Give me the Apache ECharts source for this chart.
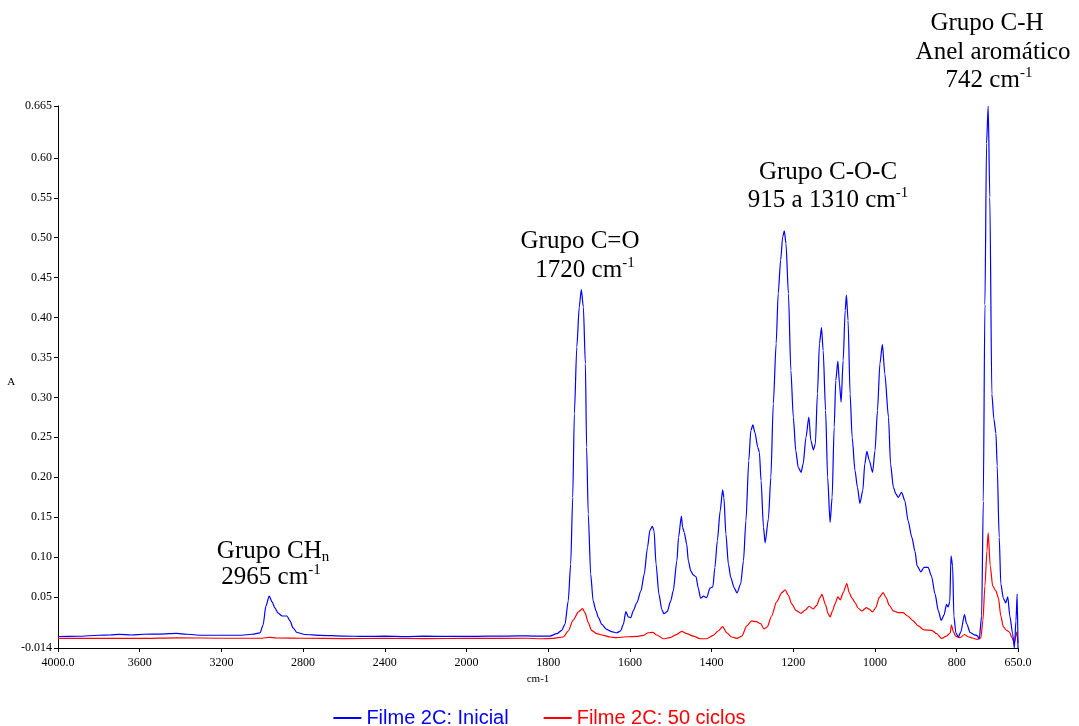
<!DOCTYPE html>
<html>
<head>
<meta charset="utf-8">
<script src="https://cdn.jsdelivr.net/npm/echarts@6/dist/echarts.min.js"></script>
<style>
  html, body { margin: 0; padding: 0; background: #ffffff; }
  #chart { width: 1079px; height: 726px; }
</style>
</head>
<body>
<div id="chart"></div>
<script>
// FTIR spectra (absorbance vs. wavenumber, cm-1)
const blueWavenumber = [4000, 3900, 3800, 3745, 3700, 3640, 3580, 3500, 3420, 3370, 3300, 3200, 3100, 3050, 3011, 2996, 2982, 2966, 2952, 2938, 2923, 2903, 2879, 2864, 2849, 2830, 2791, 2717, 2600, 2500, 2400, 2300, 2200, 2100, 2000, 1950, 1900, 1850, 1820, 1796, 1779, 1767, 1759, 1751, 1745, 1740, 1736, 1730, 1724, 1719, 1714, 1709, 1706, 1702, 1696, 1690, 1683, 1677, 1669, 1657, 1645, 1632, 1623, 1616, 1610, 1604, 1598, 1592, 1583, 1573, 1565, 1557, 1551, 1545, 1541, 1536, 1529, 1522, 1517, 1509, 1500, 1494, 1485, 1481, 1474, 1471, 1467, 1461, 1457, 1451, 1445, 1438, 1433, 1427, 1420, 1412, 1404, 1397, 1392, 1386, 1379, 1373, 1370, 1365, 1359, 1353, 1345, 1338, 1329, 1322, 1316, 1309, 1304, 1299, 1294, 1287, 1283, 1279, 1273, 1269, 1261, 1255, 1249, 1242, 1237, 1231, 1226, 1222, 1218, 1212, 1206, 1200, 1194, 1188, 1181, 1176, 1169, 1162, 1157, 1151, 1146, 1141, 1136, 1131, 1127, 1121, 1116, 1110, 1105, 1100, 1096, 1091, 1087, 1083, 1078, 1073, 1070, 1066, 1061, 1056, 1049, 1043, 1037, 1030, 1025, 1020, 1014, 1006, 1000, 994, 988, 982, 976, 967, 962, 955, 949, 943, 935, 927, 919, 910, 902, 897, 888, 880, 870, 862, 853, 845, 838, 831, 825, 821, 817, 814, 810, 807, 802, 796, 790, 781, 776, 767, 758, 750, 745, 739, 735, 731, 727, 723, 719, 714, 709, 704, 701, 696, 692, 686, 680, 675, 670, 663, 659, 655, 652, 650];
const blueAbsorbance = [0.0004, 0.0007, 0.0020, 0.0023, 0.0030, 0.0023, 0.0032, 0.0035, 0.0044, 0.0032, 0.0020, 0.0020, 0.0020, 0.0032, 0.0050, 0.0148, 0.0387, 0.0510, 0.0437, 0.0362, 0.0299, 0.0261, 0.0261, 0.0199, 0.0111, 0.0054, 0.0029, 0.0019, 0.0010, 0.0005, 0.0008, 0.0003, 0.0008, 0.0005, 0.0005, 0.0008, 0.0010, 0.0012, 0.0008, 0.0010, 0.0039, 0.0082, 0.0157, 0.0449, 0.0911, 0.1747, 0.2794, 0.3630, 0.4133, 0.4351, 0.4133, 0.3422, 0.2375, 0.1539, 0.0785, 0.0450, 0.0324, 0.0240, 0.0157, 0.0094, 0.0064, 0.0051, 0.0073, 0.0157, 0.0315, 0.0249, 0.0240, 0.0324, 0.0428, 0.0575, 0.0785, 0.1119, 0.1337, 0.1383, 0.1329, 0.0911, 0.0534, 0.0345, 0.0290, 0.0315, 0.0450, 0.0575, 0.0952, 0.1245, 0.1513, 0.1370, 0.1307, 0.1162, 0.0952, 0.0826, 0.0776, 0.0751, 0.0617, 0.0484, 0.0509, 0.0491, 0.0609, 0.0626, 0.0868, 0.1203, 0.1580, 0.1840, 0.1747, 0.1287, 0.0911, 0.0742, 0.0617, 0.0550, 0.0659, 0.0952, 0.1454, 0.2208, 0.2584, 0.2654, 0.2559, 0.2375, 0.2308, 0.1957, 0.1370, 0.1178, 0.1479, 0.1998, 0.2920, 0.3673, 0.4301, 0.4719, 0.5012, 0.5087, 0.4929, 0.4301, 0.3338, 0.2752, 0.2333, 0.2124, 0.2061, 0.2166, 0.2500, 0.2752, 0.2459, 0.2342, 0.2417, 0.3045, 0.3673, 0.3874, 0.3589, 0.2836, 0.1998, 0.1433, 0.1747, 0.2626, 0.3212, 0.3455, 0.3171, 0.2940, 0.3463, 0.4091, 0.4280, 0.3966, 0.3045, 0.2500, 0.2082, 0.1873, 0.1672, 0.1831, 0.2166, 0.2325, 0.2208, 0.2061, 0.2333, 0.2836, 0.3422, 0.3664, 0.3296, 0.2752, 0.2166, 0.1873, 0.1790, 0.1747, 0.1810, 0.1705, 0.1454, 0.1248, 0.1069, 0.0889, 0.0814, 0.0870, 0.0870, 0.0764, 0.0534, 0.0324, 0.0205, 0.0274, 0.0406, 0.0374, 0.0437, 0.1015, 0.0889, 0.0261, 0.0048, -0.0002, 0.0061, 0.0279, 0.0167, 0.0054, 0.0028, 0.0015, -0.0027, 0.0261, 0.1697, 0.4163, 0.6181, 0.6650, 0.5510, 0.3041, 0.2728, 0.2547, 0.2145, 0.1248, 0.0663, 0.0486, 0.0425, 0.0500, 0.0261, 0.0035, -0.0140, 0.0199, 0.0538, -0.0140];

const redWavenumber = [4000, 3800, 3600, 3420, 3200, 3000, 2966, 2930, 2800, 2600, 2400, 2200, 2000, 1850, 1820, 1788, 1763, 1751, 1739, 1726, 1716, 1710, 1702, 1694, 1681, 1665, 1649, 1632, 1608, 1583, 1567, 1555, 1544, 1534, 1518, 1502, 1485, 1473, 1461, 1445, 1428, 1412, 1396, 1384, 1373, 1363, 1351, 1338, 1326, 1314, 1302, 1290, 1280, 1272, 1264, 1253, 1241, 1228, 1220, 1212, 1204, 1193, 1181, 1171, 1161, 1151, 1143, 1135, 1130, 1121, 1115, 1110, 1104, 1098, 1091, 1085, 1078, 1069, 1063, 1056, 1049, 1041, 1032, 1021, 1014, 1006, 998, 990, 980, 973, 965, 955, 943, 931, 920, 908, 894, 880, 861, 849, 837, 825, 816, 813, 808, 803, 792, 781, 772, 761, 750, 741, 736, 731, 726, 723, 718, 712, 704, 698, 692, 686, 678, 671, 665, 659, 653, 650];
const redAbsorbance = [-0.0020, -0.0018, -0.0020, -0.0012, -0.0018, -0.0018, -0.0006, -0.0015, -0.0018, -0.0022, -0.0020, -0.0022, -0.0020, -0.0018, -0.0024, -0.0019, -0.0002, 0.0073, 0.0208, 0.0312, 0.0353, 0.0303, 0.0177, 0.0082, 0.0039, 0.0019, -0.0002, -0.0011, 0.0001, 0.0006, 0.0019, 0.0051, 0.0056, 0.0023, -0.0024, -0.0011, 0.0031, 0.0069, 0.0039, 0.0010, -0.0024, -0.0024, 0.0019, 0.0073, 0.0127, 0.0051, -0.0002, -0.0019, 0.0010, 0.0136, 0.0199, 0.0190, 0.0165, 0.0098, 0.0123, 0.0261, 0.0437, 0.0554, 0.0588, 0.0519, 0.0412, 0.0328, 0.0295, 0.0334, 0.0383, 0.0349, 0.0393, 0.0487, 0.0531, 0.0400, 0.0293, 0.0249, 0.0324, 0.0412, 0.0500, 0.0462, 0.0554, 0.0667, 0.0550, 0.0481, 0.0428, 0.0358, 0.0324, 0.0366, 0.0346, 0.0312, 0.0366, 0.0491, 0.0554, 0.0491, 0.0393, 0.0324, 0.0303, 0.0303, 0.0261, 0.0205, 0.0136, 0.0086, 0.0082, 0.0039, -0.0021, 0.0010, 0.0048, 0.0148, 0.0061, 0.0010, -0.0011, 0.0029, 0.0001, -0.0015, -0.0032, -0.0015, 0.0199, 0.0638, 0.1078, 0.1303, 0.0889, 0.0638, 0.0575, 0.0487, 0.0261, 0.0127, 0.0082, 0.0060, -0.0008, -0.0076, 0.0060, -0.0076];

const seriesNames = ['Filme 2C: Inicial', 'Filme 2C: 50 ciclos'];

const xTickWavenumbers = [4000, 3600, 3200, 2800, 2400, 2000, 1800, 1600, 1400, 1200, 1000, 800, 650];
const xTickLabels = ['4000.0', '3600', '3200', '2800', '2400', '2000', '1800', '1600', '1400', '1200', '1000', '800', '650.0'];
const yTickValues = [-0.014, 0.05, 0.10, 0.15, 0.20, 0.25, 0.30, 0.35, 0.40, 0.45, 0.50, 0.55, 0.60, 0.665];
const yTickLabels = ['-0.014', '0.05', '0.10', '0.15', '0.20', '0.25', '0.30', '0.35', '0.40', '0.45', '0.50', '0.55', '0.60', '0.665'];

// The wavenumber axis is drawn with a scale change at 2000 cm-1:
// 4000-2000 at half the scale of 2000-650.
function toAxis(w) {
  return w >= 2000 ? (4000 - w) / 2 : 1000 + (2000 - w);
}

function pairs(xs, ys) {
  return xs.map(function (w, i) { return [toAxis(w), ys[i]]; });
}

function lookupLabel(values, labels, v) {
  for (let i = 0; i < values.length; i++) {
    if (Math.abs(values[i] - v) < 1e-6) return labels[i];
  }
  return '';
}

const xTickPositions = xTickWavenumbers.map(toAxis);
const serif = 'Liberation Serif, Times New Roman, serif';
const sans = 'Liberation Sans, Arial, sans-serif';

const chart = echarts.init(document.getElementById('chart'), null, { renderer: 'canvas' });

// Band annotation: one line of serif text, with optional sub/superscripts
function note(x, y, text) {
  return {
    type: 'text',
    x: x,
    y: y,
    style: {
      text: text,
      align: 'center',
      verticalAlign: 'middle',
      fontFamily: serif,
      fontSize: 25,
      fill: '#000',
      rich: {
        t: { fontFamily: serif, fontSize: 25, fill: '#000', lineHeight: 28 },
        sup: { fontFamily: serif, fontSize: 15, fill: '#000', verticalAlign: 'top', lineHeight: 28 },
        sub: { fontFamily: serif, fontSize: 15, fill: '#000', verticalAlign: 'bottom', lineHeight: 20 }
      }
    }
  };
}

chart.setOption({
  animation: false,
  backgroundColor: '#ffffff',
  grid: { left: 58, right: 61, top: 106, bottom: 78, containLabel: false, outerBoundsMode: 'none' },
  legend: {
    left: 'center',
    top: 703,
    icon: 'rect',
    itemWidth: 28,
    itemHeight: 2,
    itemGap: 35,
    textStyle: { fontFamily: sans, fontSize: 20 },
    data: [
      { name: seriesNames[0], textStyle: { color: '#0000ff' } },
      { name: seriesNames[1], textStyle: { color: '#ff0000' } }
    ]
  },
  xAxis: {
    type: 'value',
    min: 0,
    max: toAxis(650),
    name: 'cm-1',
    nameLocation: 'middle',
    nameGap: 26,
    nameTextStyle: { fontFamily: serif, fontSize: 11, color: '#000' },
    axisLine: { show: true, onZero: false, lineStyle: { color: '#000', width: 1 } },
    axisTick: { show: true, length: 4, customValues: xTickPositions, lineStyle: { color: '#000' } },
    axisLabel: {
      customValues: xTickPositions,
      fontFamily: serif,
      fontSize: 12,
      color: '#000',
      margin: 9,
      formatter: function (v) { return lookupLabel(xTickPositions, xTickLabels, v); }
    },
    splitLine: { show: false }
  },
  yAxis: {
    type: 'value',
    min: -0.014,
    max: 0.665,
    name: 'A',
    nameLocation: 'middle',
    nameRotate: 0,
    nameGap: 41,
    nameTextStyle: { fontFamily: serif, fontSize: 11, color: '#000', verticalAlign: 'top' },
    axisLine: { show: true, onZero: false, lineStyle: { color: '#000', width: 1 } },
    axisTick: { show: true, length: 4, customValues: yTickValues, lineStyle: { color: '#000' } },
    axisLabel: {
      customValues: yTickValues,
      fontFamily: serif,
      fontSize: 12,
      color: '#000',
      margin: 6,
      padding: [0, 0, 3, 0],
      formatter: function (v) { return lookupLabel(yTickValues, yTickLabels, v); }
    },
    splitLine: { show: false }
  },
  series: [
    {
      name: seriesNames[0],
      type: 'line',
      data: pairs(blueWavenumber, blueAbsorbance),
      showSymbol: false,
      symbol: 'none',
      smooth: 0.25,
      smoothMonotone: 'x',
      clip: true,
      lineStyle: { color: '#0000ff', width: 1.2 },
      itemStyle: { color: '#0000ff' },
      z: 3
    },
    {
      name: seriesNames[1],
      type: 'line',
      data: pairs(redWavenumber, redAbsorbance),
      showSymbol: false,
      symbol: 'none',
      smooth: 0.25,
      smoothMonotone: 'x',
      clip: true,
      lineStyle: { color: '#ff0000', width: 1.2 },
      itemStyle: { color: '#ff0000' },
      z: 2
    }
  ],
  graphic: [
    note(273, 551, '{t|Grupo CH}{sub|n}'),
    note(271, 577, '{t|2965 cm}{sup|-1}'),
    note(580, 241, '{t|Grupo C=O}'),
    note(585, 270, '{t|1720 cm}{sup|-1}'),
    note(828, 172, '{t|Grupo C-O-C}'),
    note(828, 200, '{t|915 a 1310 cm}{sup|-1}'),
    note(987, 23, '{t|Grupo C-H}'),
    note(993, 52, '{t|Anel aromático}'),
    note(989, 80, '{t|742 cm}{sup|-1}')
  ]
});
</script>
</body>
</html>
